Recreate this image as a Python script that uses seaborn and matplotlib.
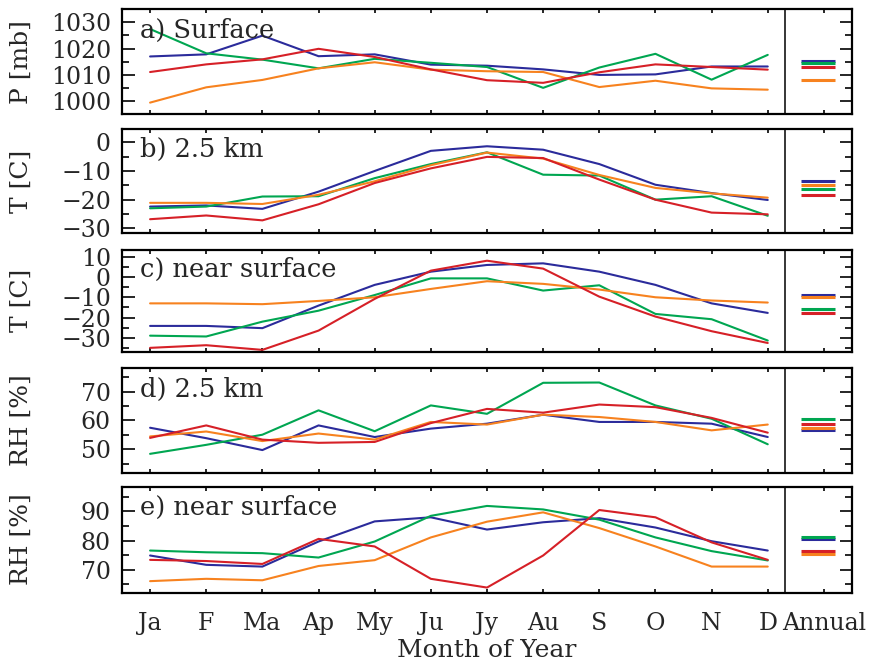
import numpy as np
import pandas as pd
import matplotlib
matplotlib.use('Agg')
import matplotlib.pyplot as plt
from matplotlib.ticker import MultipleLocator, FixedLocator
import seaborn as sns

months = ['Ja', 'F', 'Ma', 'Ap', 'My', 'Ju', 'Jy', 'Au', 'S', 'O', 'N', 'D']
series = ['blue', 'green', 'orange', 'red']
colors = {'blue': '#2b2b9b', 'green': '#00a651', 'orange': '#f7821f', 'red': '#d62027'}

# a) surface pressure [mb]
p_sfc = {
    'blue':   [1017.0, 1017.8, 1024.9, 1017.1, 1017.8, 1013.9, 1013.5, 1012.1, 1010.0, 1010.2, 1013.2, 1013.2],
    'green':  [1027.4, 1018.2, 1015.8, 1012.5, 1016.1, 1014.6, 1013.0, 1005.1, 1012.8, 1018.0, 1008.2, 1017.6],
    'orange': [999.5, 1005.3, 1008.1, 1012.5, 1014.8, 1012.0, 1011.4, 1011.1, 1005.4, 1007.8, 1004.9, 1004.4],
    'red':    [1011.1, 1014.0, 1015.9, 1019.9, 1016.8, 1012.1, 1008.0, 1007.0, 1011.0, 1014.0, 1013.0, 1012.0],
}
p_sfc_ann = {'blue': 1015.2, 'green': 1014.5, 'orange': 1008.0, 'red': 1013.0}

# b) temperature at 2.5 km [C]
t_25 = {
    'blue':   [-22.4, -22.0, -23.2, -17.2, -10.0, -3.0, -1.4, -2.6, -7.6, -14.8, -17.7, -20.1],
    'green':  [-23.0, -22.4, -18.9, -18.8, -12.5, -7.6, -3.5, -11.3, -11.6, -20.0, -18.8, -25.6],
    'orange': [-21.1, -21.1, -21.5, -18.3, -13.6, -8.0, -3.6, -5.7, -11.4, -15.9, -17.8, -19.3],
    'red':    [-26.8, -25.5, -27.2, -21.6, -14.2, -9.1, -5.1, -5.5, -13.0, -20.0, -24.5, -25.1],
}
t_25_ann = {'blue': -13.4, 'green': -16.2, 'orange': -14.8, 'red': -18.2}

# c) near-surface temperature [C]
t_sfc = {
    'blue':   [-24.1, -24.1, -25.2, -14.1, -3.9, 2.6, 5.9, 6.7, 2.6, -3.9, -13.0, -17.7],
    'green':  [-28.9, -29.3, -22.0, -16.6, -8.9, -0.7, -0.7, -6.7, -4.1, -18.2, -20.8, -31.3],
    'orange': [-13.0, -13.0, -13.4, -11.8, -10.0, -5.9, -2.1, -3.4, -6.2, -10.0, -11.6, -12.6],
    'red':    [-34.9, -33.6, -35.9, -26.4, -10.8, 3.1, 8.0, 4.1, -9.7, -19.5, -26.7, -32.5],
}
t_sfc_ann = {'blue': -8.9, 'green': -15.7, 'orange': -9.7, 'red': -17.9}

# d) relative humidity at 2.5 km [%]
rh_25 = {
    'blue':   [57.5, 53.9, 49.8, 58.3, 54.3, 57.2, 58.9, 62.0, 59.5, 59.5, 58.9, 54.3],
    'green':  [48.5, 51.6, 55.1, 63.5, 56.3, 65.2, 62.3, 73.0, 73.1, 65.2, 60.6, 51.8],
    'orange': [54.5, 56.2, 52.9, 55.5, 53.4, 59.5, 58.6, 62.0, 61.2, 59.5, 56.6, 58.6],
    'red':    [54.0, 58.3, 53.4, 52.3, 52.6, 59.1, 64.0, 62.7, 65.5, 64.6, 60.9, 55.8],
}
rh_25_ann = {'blue': 56.6, 'green': 60.4, 'orange': 57.5, 'red': 58.7}

# e) near-surface relative humidity [%]
rh_sfc = {
    'blue':   [74.9, 71.7, 71.1, 79.7, 86.6, 88.0, 83.8, 86.3, 87.7, 84.5, 79.8, 76.6],
    'green':  [76.6, 76.0, 75.7, 74.2, 79.7, 88.5, 91.9, 90.7, 87.2, 81.1, 76.4, 73.2],
    'orange': [66.1, 66.9, 66.4, 71.3, 73.3, 81.1, 86.5, 89.7, 84.3, 78.0, 71.1, 71.1],
    'red':    [73.4, 73.0, 72.0, 80.6, 78.0, 66.9, 63.9, 74.9, 90.5, 88.0, 79.4, 73.4],
}
rh_sfc_ann = {'blue': 80.5, 'green': 81.4, 'orange': 75.3, 'red': 76.4}

panels = [
    (p_sfc, p_sfc_ann, 'a) Surface', 'P [mb]', (995, 1035), [1000, 1010, 1020, 1030]),
    (t_25, t_25_ann, 'b) 2.5 km', 'T [C]', (-31.6, 4.6), [-30, -20, -10, 0]),
    (t_sfc, t_sfc_ann, 'c) near surface', 'T [C]', (-36.8, 13.5), [-30, -20, -10, 0, 10]),
    (rh_25, rh_25_ann, 'd) 2.5 km', 'RH [%]', (42, 78), [50, 60, 70]),
    (rh_sfc, rh_sfc_ann, 'e) near surface', 'RH [%]', (62.2, 98.5), [70, 80, 90]),
]

# axes boxes in figure fraction (left, bottom, width, height)
boxes = [
    [0.1396, 0.8268, 0.8352, 0.1596],
    [0.1396, 0.6475, 0.8352, 0.1573],
    [0.1396, 0.4679, 0.8352, 0.1546],
    [0.1396, 0.2849, 0.8352, 0.1579],
    [0.1396, 0.1036, 0.8352, 0.1601],
]

sns.set_style('ticks')
plt.rcParams['font.family'] = ['DejaVu Serif']
plt.rcParams['axes.unicode_minus'] = True

fig = plt.figure(figsize=(8.74, 6.61), dpi=100)

for i, (data, ann, title, ylab, ylim, yticks) in enumerate(panels):
    ax = fig.add_axes(boxes[i])
    df = pd.DataFrame(data)
    df['month'] = np.arange(1, 13)
    df = df.melt(id_vars='month', var_name='series', value_name='value')
    sns.lineplot(data=df, x='month', y='value', hue='series', hue_order=series,
                 palette=colors, linewidth=1.5, legend=False, ax=ax)
    # annual means drawn as short bars in the right-hand column
    for s in series:
        ax.hlines(ann[s], 12.6, 13.2, color=colors[s], linewidth=2.2)
    ax.axvline(12.3, color='black', linewidth=1.1)

    ax.set_xlim(0.5, 13.5)
    ax.set_ylim(*ylim)
    ax.xaxis.set_major_locator(FixedLocator(list(range(1, 14))))
    ax.yaxis.set_major_locator(FixedLocator(yticks))
    ax.yaxis.set_minor_locator(MultipleLocator(5))
    ax.tick_params(axis='x', direction='in', length=3, width=1.4, top=True, bottom=True,
                   labelsize=17, pad=14)
    ax.tick_params(axis='y', which='major', direction='in', length=9, width=1.4,
                   left=True, right=True, labelsize=17, pad=8)
    ax.tick_params(axis='y', which='minor', direction='in', length=5, width=1.4,
                   left=True, right=True)
    for sp in ax.spines.values():
        sp.set_linewidth(1.6)
        sp.set_color('black')

    ax.set_ylabel(ylab, fontsize=18)
    ax.yaxis.set_label_coords(-0.122, 0.5)
    ax.text(0.025, 0.73, title, transform=ax.transAxes, fontsize=18.5, va='baseline', ha='left')

    if i == len(panels) - 1:
        ax.set_xticklabels(months + ['Annual'])
        ax.set_xlabel('Month of Year', fontsize=18, labelpad=3)
    else:
        ax.set_xticklabels([])
        ax.set_xlabel('')

fig.savefig('out.png', dpi=100)
